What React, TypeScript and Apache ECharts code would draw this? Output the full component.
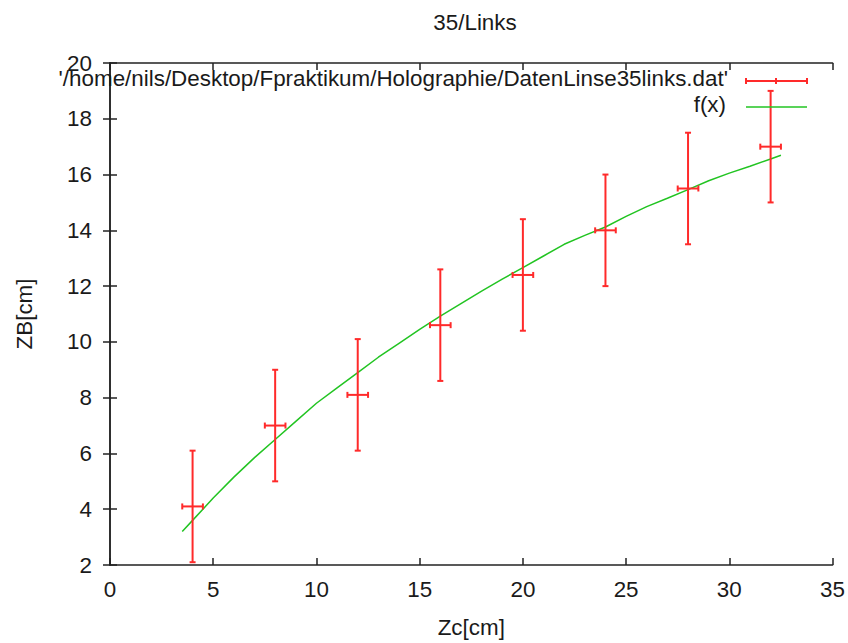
import React, { useEffect, useRef } from "react";
import * as echarts from "echarts";

// Measured data points (Zc, ZB) with errors
const zc = [4, 8, 12, 16, 20, 24, 28, 32];
const zb = [4.1, 7.0, 8.1, 10.6, 12.4, 14.0, 15.5, 17.0];
const zcErr = [0.5, 0.5, 0.5, 0.5, 0.5, 0.5, 0.5, 0.5];
const zbErr = [2, 2, 2, 2, 2, 2, 2, 2];

// Fit curve f(x)
const fitX = [3.5, 4, 5, 6, 7, 8, 9, 10, 11, 12, 13, 14, 15, 16, 17, 18, 19, 20, 21, 22, 23, 24, 25, 26, 27, 28, 29, 30, 31, 32, 32.5];
const fitY = [3.2, 3.6, 4.4, 5.15, 5.85, 6.5, 7.15, 7.8, 8.35, 8.9, 9.45, 9.95, 10.45, 10.92, 11.37, 11.82, 12.25, 12.66, 13.08, 13.5, 13.82, 14.12, 14.5, 14.85, 15.15, 15.46, 15.78, 16.05, 16.3, 16.56, 16.69];

const xTicks = [0, 35, 5];
const yTicks = [2, 20, 2];

const titleText = "35/Links";
const xName = "Zc[cm]";
const yName = "ZB[cm]";
const legendData = "'/home/nils/Desktop/Fpraktikum/Holographie/DatenLinse35links.dat'";
const legendFit = "f(x)";

const FONT = "Liberation Sans, Arial, sans-serif";
const FS = 22.4;
const TXT = "#1a1a1a";
const RED = "#ff2a2a";
const GREEN = "#22c422";

export default function App() {
  const ref = useRef<HTMLDivElement>(null);
  useEffect(() => {
    if (!ref.current) return;
    const chart = echarts.init(ref.current, undefined, { renderer: "svg" });
    const errData = zc.map((x, i) => [x, zb[i], zcErr[i], zbErr[i]]);
    const fitData = fitX.map((x, i) => [x, fitY[i]]);
    const axisCommon = {
      type: "value" as const,
      axisLine: { show: true, lineStyle: { color: "#222", width: 1.5 } },
      axisTick: { show: true, inside: true, length: 7, lineStyle: { color: "#222", width: 1.5 } },
      splitLine: { show: false },
    };
    const labelStyle = { fontSize: FS, color: TXT, fontFamily: FONT };
    chart.setOption({
      animation: false,
      backgroundColor: "#fff",
      title: {
        text: titleText,
        left: 470,
        top: 6,
        textAlign: "center",
        textStyle: { fontSize: FS, fontWeight: "normal", color: TXT, fontFamily: FONT },
      },
      grid: { left: 110, right: 13, top: 63, bottom: 74, containLabel: false },
      xAxis: [
        {
          ...axisCommon,
          min: xTicks[0], max: xTicks[1], interval: xTicks[2],
          axisLabel: { ...labelStyle, margin: 13 },
          name: xName,
          nameLocation: "middle",
          nameGap: 51,
          nameTextStyle: { ...labelStyle },
        },
        {
          ...axisCommon,
          position: "top",
          min: xTicks[0], max: xTicks[1], interval: xTicks[2],
          axisLabel: { show: false },
        },
      ],
      yAxis: [
        {
          ...axisCommon,
          min: yTicks[0], max: yTicks[1], interval: yTicks[2],
          axisLabel: { ...labelStyle, margin: 18 },
          name: yName,
          nameLocation: "middle",
          nameGap: 75,
          nameTextStyle: { ...labelStyle },
        },
        {
          ...axisCommon,
          position: "right",
          min: yTicks[0], max: yTicks[1], interval: yTicks[2],
          axisLabel: { show: false },
        },
      ],
      series: [
        {
          type: "custom",
          name: legendData,
          xAxisIndex: 0,
          yAxisIndex: 0,
          encode: { x: 0, y: 1 },
          data: errData,
          z: 3,
          renderItem: (_params: any, api: any) => {
            const x = api.value(0), y = api.value(1), dx = api.value(2), dy = api.value(3);
            const top = api.coord([x, y + dy]);
            const bot = api.coord([x, y - dy]);
            const l = api.coord([x - dx, y]);
            const r = api.coord([x + dx, y]);
            const c = 3;
            const style = { stroke: RED, lineWidth: 2 };
            const ln = (x1: number, y1: number, x2: number, y2: number) => ({
              type: "line", shape: { x1, y1, x2, y2 }, style,
            });
            return {
              type: "group",
              children: [
                ln(top[0], top[1], bot[0], bot[1]),
                ln(top[0] - c, top[1], top[0] + c, top[1]),
                ln(bot[0] - c, bot[1], bot[0] + c, bot[1]),
                ln(l[0], l[1], r[0], r[1]),
                ln(l[0], l[1] - c, l[0], l[1] + c),
                ln(r[0], r[1] - c, r[0], r[1] + c),
              ],
            };
          },
        },
        {
          type: "line",
          name: legendFit,
          xAxisIndex: 0,
          yAxisIndex: 0,
          data: fitData,
          showSymbol: false,
          symbol: "none",
          lineStyle: { color: GREEN, width: 1.5 },
          z: 2,
        },
      ],
      graphic: [
        {
          type: "text", right: 848 - 728, top: 67, z: 10,
          style: { text: legendData, fill: TXT, font: `${FS}px ${FONT}`, textAlign: "right" },
        },
        { type: "line", shape: { x1: 746, y1: 81, x2: 807, y2: 81 }, style: { stroke: RED, lineWidth: 2 }, z: 10 },
        { type: "line", shape: { x1: 746, y1: 78, x2: 746, y2: 84 }, style: { stroke: RED, lineWidth: 2 }, z: 10 },
        { type: "line", shape: { x1: 807, y1: 78, x2: 807, y2: 84 }, style: { stroke: RED, lineWidth: 2 }, z: 10 },
        { type: "line", shape: { x1: 776, y1: 78, x2: 776, y2: 84 }, style: { stroke: RED, lineWidth: 2 }, z: 10 },
        {
          type: "text", right: 848 - 726, top: 93, z: 10,
          style: { text: legendFit, fill: TXT, font: `${FS}px ${FONT}`, textAlign: "right" },
        },
        { type: "line", shape: { x1: 746, y1: 107, x2: 807, y2: 107 }, style: { stroke: GREEN, lineWidth: 1.5 }, z: 10 },
      ],
    });
    return () => chart.dispose();
  }, []);
  return (
    <div
      ref={ref}
      style={{ position: "absolute", left: 0, top: 0, width: 848, height: 643, background: "#fff" }}
    />
  );
}
